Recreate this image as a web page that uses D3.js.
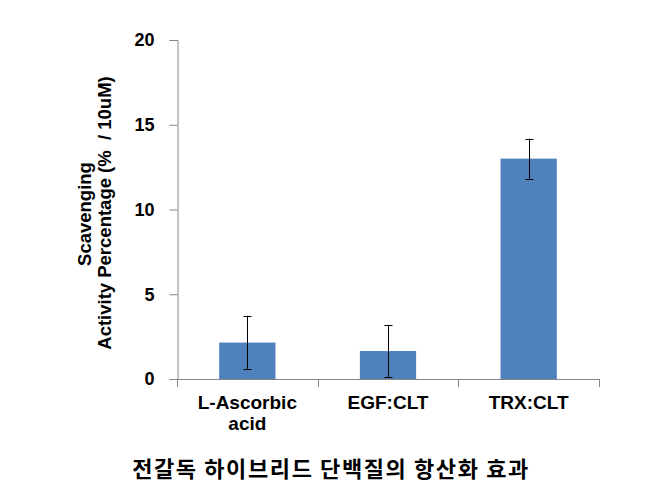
<!DOCTYPE html>
<html>
<head>
<meta charset="utf-8">
<script src="https://cdn.jsdelivr.net/npm/d3@7"></script>
<style>
  body { margin: 0; background: #fff; }
  text { font-family: "Liberation Sans", Arial, sans-serif; font-weight: bold; fill: #000; white-space: pre; }
</style>
</head>
<body>
<svg id="chart" width="670" height="495"></svg>
<script>
let categories = [['L-Ascorbic', 'acid'], ['EGF:CLT'], ['TRX:CLT']]
let values = [2.15, 1.65, 13.0]
let errors = [1.55, 1.55, 1.18]
let yTicks = [0, 5, 10, 15, 20]
let yTitle = ['Scavenging', 'Activity Percentage (%  / 10uM)']
let title = '전갈독 하이브리드 단백질의 항산화 효과'

function main() {
    let svg = d3.select('#chart'),
        margin = {top: 40, left: 177, right: 71, bottom: 116},
        w = +svg.attr('width'),
        h = +svg.attr('height'),
        x0 = margin.left,
        x1 = w - margin.right,
        y0 = h - margin.bottom,
        axisColor = '#868686'

    let keys = categories.map(d => d.join(' '))
    let xScale = d3.scaleBand().domain(keys).range([x0, x1]).paddingInner(0.6).paddingOuter(0.3)
    let yScale = d3.scaleLinear().domain([0, 20]).range([y0, margin.top])

    // bars
    svg.selectAll('.bar')
        .data(values)
        .enter()
        .append('rect')
        .attr('class', 'bar')
        .attr('x', (d, i) => xScale(keys[i]))
        .attr('y', d => yScale(d))
        .attr('width', xScale.bandwidth())
        .attr('height', d => yScale(0) - yScale(d))
        .attr('fill', '#4f81bd')

    // error bars
    let eb = svg.selectAll('.err')
        .data(values)
        .enter()
        .append('g')
        .attr('class', 'err')
        .attr('stroke', '#000')
        .attr('stroke-width', 1)
    let cx = i => Math.round(xScale(keys[i]) + xScale.bandwidth() / 2) + 0.5
    eb.append('line')
        .attr('x1', (d, i) => cx(i)).attr('x2', (d, i) => cx(i))
        .attr('y1', (d, i) => yScale(d + errors[i])).attr('y2', (d, i) => yScale(d - errors[i]))
    eb.append('line')
        .attr('x1', (d, i) => cx(i) - 4).attr('x2', (d, i) => cx(i) + 4)
        .attr('y1', (d, i) => Math.round(yScale(d + errors[i])) + 0.5)
        .attr('y2', (d, i) => Math.round(yScale(d + errors[i])) + 0.5)
    eb.append('line')
        .attr('x1', (d, i) => cx(i) - 4).attr('x2', (d, i) => cx(i) + 4)
        .attr('y1', (d, i) => Math.round(yScale(d - errors[i])) + 0.5)
        .attr('y2', (d, i) => Math.round(yScale(d - errors[i])) + 0.5)

    // y axis
    let yAxis = svg.append('g')
        .attr('transform', 'translate(' + (x0 + 0.5) + ',0)')
        .call(d3.axisLeft(yScale).tickValues(yTicks).tickSize(8).tickPadding(15))
    yAxis.select('.domain').attr('stroke', axisColor)
    yAxis.selectAll('.tick line').attr('stroke', axisColor)
    yAxis.selectAll('.tick text')
        .attr('font-size', 18)
        .attr('font-family', '"Liberation Sans", Arial, sans-serif')
        .attr('font-weight', 'bold')
        .attr('fill', '#000')

    // x axis with ticks on category boundaries
    let xAxis = svg.append('g')
    xAxis.append('line')
        .attr('x1', x0).attr('x2', x1)
        .attr('y1', y0 + 0.5).attr('y2', y0 + 0.5)
        .attr('stroke', axisColor)
    let step = xScale.step()
    let bounds = d3.range(keys.length + 1).map(i => xScale(keys[0]) - xScale.paddingOuter() * step + i * step)
    xAxis.selectAll('.xt')
        .data(bounds)
        .enter()
        .append('line')
        .attr('x1', d => Math.round(d) + 0.5).attr('x2', d => Math.round(d) + 0.5)
        .attr('y1', y0).attr('y2', y0 + 8)
        .attr('stroke', axisColor)

    // category labels
    let labels = svg.selectAll('.xl')
        .data(categories)
        .enter()
        .append('text')
        .attr('text-anchor', 'middle')
        .attr('font-size', 19)
        .attr('x', (d, i) => xScale(keys[i]) + xScale.bandwidth() / 2)
        .attr('y', y0 + 30)
    labels.selectAll('tspan')
        .data(d => d)
        .enter()
        .append('tspan')
        .attr('x', function () { return d3.select(this.parentNode).attr('x') })
        .attr('dy', (d, i) => i === 0 ? 0 : 21)
        .text(d => d)

    // y axis title
    svg.append('text')
        .attr('text-anchor', 'middle')
        .attr('font-size', 18.5)
        .attr('transform', 'translate(91,214) rotate(-90)')
        .text(yTitle[0])
    svg.append('text')
        .attr('text-anchor', 'middle')
        .attr('font-size', 18.5)
        .attr('transform', 'translate(111,213) rotate(-90)')
        .text(yTitle[1])

    // bottom title
    svg.append('text')
        .attr('text-anchor', 'middle')
        .attr('x', 331)
        .attr('y', 477)
        .attr('font-size', 22)
        .attr('letter-spacing', 1.6)
        .style('font-family', '"Noto Sans CJK KR", sans-serif')
        .text(title)
}

main()
</script>
</body>
</html>
